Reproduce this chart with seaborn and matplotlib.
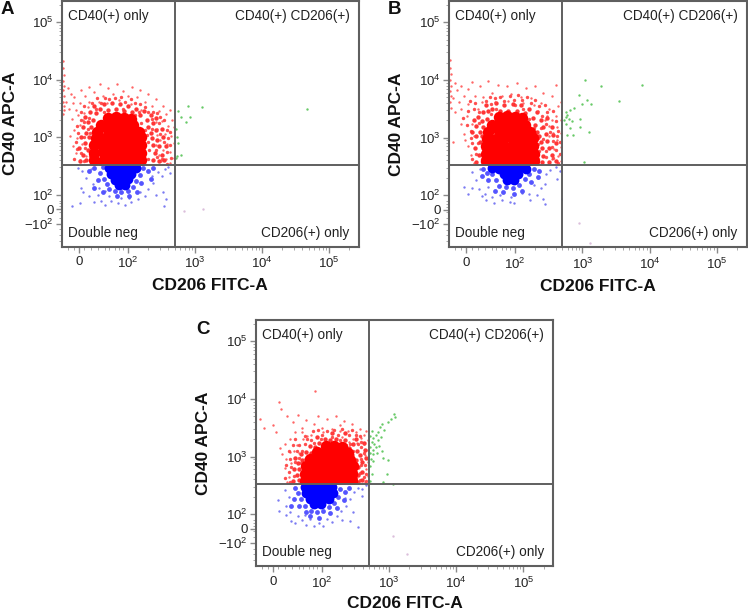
import numpy as np
import matplotlib
matplotlib.use("Agg")
import matplotlib.pyplot as plt
from matplotlib.patches import Rectangle
import seaborn as sns

# all positions in axis decades (10^2 = 2, 10^3 = 3 ...)
x_tick_pos = [1.27, 2, 3, 4, 5]
x_tick_labels = ['0', r'$\mathregular{10^{2}}$', r'$\mathregular{10^{3}}$', r'$\mathregular{10^{4}}$', r'$\mathregular{10^{5}}$']
y_tick_pos = [1.5, 1.75, 2, 3, 4, 5]
y_tick_labels = [r'$\mathregular{-10^{2}}$', '0', r'$\mathregular{10^{2}}$', r'$\mathregular{10^{3}}$', r'$\mathregular{10^{4}}$', r'$\mathregular{10^{5}}$']
x_gate = 2.70
y_gate = 2.52

# --- panel A ---
a_red_core = [(1.5,2.6),(1.62,2.58),(1.74,2.6),(1.86,2.58),(1.98,2.6),(2.1,2.58),(2.2,2.6),(1.5,2.72),(1.62,2.74),(1.74,2.72),(1.86,2.74),(1.98,2.72),(2.1,2.74),(2.2,2.72),
              (1.5,2.86),(1.62,2.84),(1.74,2.86),(1.86,2.84),(1.98,2.86),(2.1,2.84),(2.2,2.86),(1.52,2.98),(1.66,2.98),(1.78,3.0),(1.9,2.98),(2.02,3.0),(2.14,2.98),(2.2,3.0),
              (1.54,3.1),(1.7,3.12),(1.82,3.1),(1.94,3.12),(2.06,3.1),(2.16,3.1),(1.6,3.22),(1.72,3.24),(1.84,3.22),(1.96,3.24),(2.08,3.22),(1.7,3.34),(1.82,3.36),(1.94,3.34),(2.04,3.32)]
a_red_halo = [(1.28,2.58),(1.33,2.7),(1.27,2.82),(1.36,2.9),(1.3,3.0),(1.38,3.08),(1.33,3.18),(1.4,3.26),(1.36,3.36),(1.44,3.44),(1.38,2.6),(1.4,2.78),(1.42,3.0),(1.45,3.18),(1.48,3.3),(1.52,3.42),(1.5,3.55),
              (1.58,3.5),(1.64,3.58),(1.7,3.48),(1.76,3.6),(1.82,3.5),(1.88,3.57),(1.94,3.46),(2.0,3.54),(2.06,3.44),(2.12,3.5),(2.18,3.38),(2.24,3.46),
              (2.28,3.3),(2.34,3.38),(2.3,3.18),(2.38,3.24),(2.34,3.08),(2.42,3.12),(2.36,2.98),(2.44,2.96),(2.38,2.86),(2.46,2.84),(2.4,2.72),(2.5,2.7),(2.38,2.6),(2.46,2.58),(2.54,2.6),(2.56,2.84),(2.52,3.0),(2.5,3.14),(2.42,3.34)]
a_red_fine = [(1.2,2.62),(1.24,2.8),(1.22,2.92),(1.26,3.08),(1.24,3.2),(1.3,3.3),(1.3,3.44),(1.34,3.54),(1.42,3.34),(1.46,3.6),(1.54,3.68),(1.6,3.6),(1.66,3.68),(1.72,3.66),(1.8,3.68),(1.9,3.7),(1.96,3.62),(2.04,3.66),(2.1,3.6),(2.18,3.58),(2.26,3.52),(2.3,3.44),(2.38,3.44),(2.44,3.42),(2.48,3.36),(2.54,3.3),(2.58,3.12),(2.62,3.1),(2.6,2.98),(2.54,2.92),(2.62,2.86),(2.58,2.74),(2.5,2.62),(2.64,2.64),(2.58,2.54),
              (1.34,2.58),(1.3,2.72),(1.36,2.82),(1.34,3.0),(1.4,3.14),(1.34,3.26),(1.44,2.68),(1.46,2.88),(1.44,3.08),(2.3,2.62),(2.32,2.78),(2.3,2.92),(2.28,3.04),(2.44,2.66),(2.42,2.78),(2.48,3.06),(2.46,3.24),(2.36,3.14),(2.36,3.32),(2.2,3.24),(2.26,3.12),(1.52,3.5),(1.64,3.44),(1.92,3.5),(2.1,3.38),(2.16,3.44)]
a_red_dots = [(1.03,4.32),(1.03,4.2),(1.04,4.08),(1.03,3.98),(1.05,3.9),(1.03,3.82),(1.04,3.72),(1.03,3.62),(1.05,3.55),(1.04,3.48),(1.03,3.4),
              (1.1,3.85),(1.15,3.75),(1.08,3.62),(1.18,3.6),(1.12,3.5),(1.22,3.48),(1.2,3.7),(1.28,3.6),(1.3,3.82),(1.36,3.72),(1.26,3.38),(1.17,3.32),(1.34,3.42),(1.42,3.62),
              (1.42,3.88),(1.5,3.78),(1.58,3.92),(1.62,3.72),(1.7,3.85),(1.78,3.75),(1.84,3.93),(1.92,3.8),(2.0,3.72),(2.06,3.88),(2.14,3.7),(2.18,3.82),(2.26,3.62),(2.3,3.76),(2.36,3.55),(2.42,3.66),(2.46,3.45),(2.52,3.55),
              (2.56,3.4),(2.62,3.48),(2.66,3.3),(2.68,3.18),(2.6,3.2),(2.5,3.28),(2.44,3.15),(2.55,3.05),(2.64,3.02),(2.68,2.9),(2.58,2.88),(2.48,2.95),(2.52,2.78),(2.62,2.75),(2.68,2.64),(2.56,2.62),(2.46,2.7),(2.42,2.86),(2.62,2.56),
              (1.2,3.12),(1.24,2.98),(1.18,2.85),(1.28,3.22),(1.33,3.3),(1.22,2.72),(1.28,2.6),(1.4,3.52),(1.56,3.62),(1.68,3.6),(1.86,3.65),(2.05,3.58),(2.2,3.48),(2.34,3.38),(2.42,3.26),(2.44,3.04),(1.38,2.68),(1.14,3.02),(1.31,2.88),(2.49,2.58)]
a_blue_core = [(1.72,2.46),(1.82,2.47),(1.92,2.46),(2.02,2.47),(2.12,2.46),(1.74,2.36),(1.84,2.36),(1.94,2.37),(2.04,2.36),(1.8,2.26),(1.9,2.26),(2.0,2.27),(1.86,2.17),(1.95,2.17)]
a_blue_halo = [(1.5,2.46),(1.58,2.38),(1.62,2.48),(1.55,2.25),(1.64,2.28),(1.68,2.18),(1.72,2.1),(1.8,2.06),(1.9,2.05),(2.0,2.07),(2.08,2.14),(2.12,2.24),(2.18,2.34),(2.22,2.46),(2.3,2.42),(2.2,2.2),(2.34,2.28),(2.38,2.46),(1.42,2.42),(1.5,2.12),(1.62,2.04),(1.84,1.97),(2.02,1.98),(2.14,2.04)]
a_blue_dots = [(1.32,2.42),(1.38,2.3),(1.45,2.45),(1.48,2.18),(1.3,2.12),(1.33,2.04),(1.42,1.98),(1.28,1.85),(1.17,1.8),(1.55,2.0),(1.6,1.9),(1.5,1.88),(1.65,1.82),(1.75,1.9),(1.85,1.85),(1.95,1.83),(2.05,1.88),(2.15,1.92),(2.25,1.98),(2.3,2.1),(2.38,2.2),(2.45,2.4),(2.5,2.32),(2.55,2.45),(2.6,2.48),(2.52,2.05),(2.56,1.92),(2.42,2.0),(2.54,1.81),(2.62,2.38),(1.66,2.06),(1.56,2.12),(2.18,2.05),(2.36,2.32),(1.26,2.46),(1.72,1.98),(1.9,1.95),(2.02,1.95)]
a_green = [(2.75,3.45),(2.90,3.54),(3.11,3.53),(4.67,3.49),(2.87,3.27),(2.79,3.35),(2.92,3.36),(2.71,3.15),(2.73,3.01),(2.75,2.90),(2.73,2.67),(2.79,2.70),(2.71,2.64)]
a_pale = [(2.83,1.72),(3.12,1.76)]

# --- panel B ---
b_red_core = [(1.56,2.6),(1.68,2.58),(1.8,2.6),(1.92,2.58),(2.04,2.6),(2.16,2.58),(2.28,2.6),(1.56,2.72),(1.68,2.74),(1.8,2.72),(1.92,2.74),(2.04,2.72),(2.16,2.74),(2.28,2.72),
              (1.56,2.86),(1.68,2.84),(1.8,2.86),(1.92,2.84),(2.04,2.86),(2.16,2.84),(2.26,2.86),(1.58,2.98),(1.72,2.98),(1.84,3.0),(1.96,2.98),(2.08,3.0),(2.2,2.98),(2.27,3.0),
              (1.6,3.1),(1.76,3.12),(1.88,3.1),(2.0,3.12),(2.12,3.1),(2.22,3.1),(1.66,3.22),(1.78,3.24),(1.9,3.22),(2.02,3.22),(2.14,3.22),(1.76,3.36),(1.88,3.37),(2.0,3.36),(2.1,3.34)]
b_red_halo = [(1.42,2.58),(1.46,2.7),(1.4,2.82),(1.47,2.92),(1.42,3.02),(1.48,3.1),(1.42,3.2),(1.5,3.28),(1.44,3.36),(1.52,3.44),(1.36,3.1),(1.38,3.3),(1.5,3.02),(1.52,3.18),(1.58,3.32),(1.6,3.46),(1.56,3.56),
              (1.66,3.5),(1.72,3.6),(1.78,3.46),(1.84,3.56),(1.9,3.46),(1.96,3.58),(2.02,3.46),(2.08,3.56),(2.14,3.42),(2.2,3.5),(2.26,3.34),(2.32,3.44),
              (2.3,3.22),(2.38,3.3),(2.32,3.1),(2.42,3.18),(2.36,3.02),(2.46,3.06),(2.38,2.92),(2.48,2.94),(2.4,2.82),(2.5,2.82),(2.42,2.68),(2.54,2.7),(2.4,2.58),(2.5,2.58),(2.6,2.6),(2.6,2.9),(2.56,3.04),(2.54,3.18),(2.48,3.34)]
b_red_fine = [(1.22,3.34),(1.28,3.22),(1.3,3.46),(1.34,3.12),(1.38,3.5),(1.32,3.64),(1.4,3.6),(1.46,3.44),(1.46,3.26),(1.36,2.9),(1.34,3.0),(1.42,2.72),(1.36,2.62),(1.44,2.9),(1.5,2.62),(1.52,2.8),
              (1.56,3.64),(1.62,3.7),(1.64,3.58),(1.7,3.68),(1.78,3.7),(1.84,3.64),(1.92,3.72),(1.98,3.66),(2.04,3.74),(2.1,3.66),(2.18,3.7),(2.24,3.6),(2.3,3.66),(2.36,3.54),(2.44,3.56),(2.48,3.44),(2.56,3.46),(2.6,3.28),(2.64,3.12),(2.62,3.02),(2.56,2.94),(2.66,2.92),(2.6,2.78),(2.66,2.72),(2.56,2.64),(2.64,2.56),
              (2.34,2.62),(2.36,2.76),(2.34,2.88),(2.34,3.0),(2.46,2.66),(2.46,2.76),(2.54,2.84),(2.42,2.98),(2.52,3.1),(2.46,3.24),(2.38,3.16),(2.4,3.38),(2.28,3.16),(2.2,3.32),(2.12,3.5),(1.72,3.5),(2.0,3.56),(1.64,3.4)]
b_red_dots = [(1.03,4.35),(1.03,4.2),(1.04,4.1),(1.03,4.0),(1.04,3.9),(1.03,3.8),(1.05,3.72),(1.03,3.62),(1.04,3.52),
              (1.1,3.95),(1.14,3.82),(1.2,3.9),(1.08,3.68),(1.16,3.62),(1.24,3.72),(1.1,3.45),(1.2,3.5),(1.3,3.58),(1.3,3.85),(1.36,3.96),(1.4,3.72),(1.48,3.9),(1.52,3.7),(1.28,3.38),(1.36,3.24),(1.2,3.24),(1.24,3.06),
              (1.6,3.98),(1.66,3.78),(1.74,3.92),(1.8,3.72),(1.88,3.9),(1.94,3.76),(2.02,3.95),(2.08,3.7),(2.16,3.86),(2.24,3.68),(2.3,3.9),(2.38,3.6),(2.42,3.78),(2.5,3.5),(2.54,3.72),(2.6,3.92),(2.64,3.55),(2.68,3.62),
              (2.6,3.38),(2.68,3.3),(2.55,3.3),(2.48,3.38),(2.62,3.18),(2.68,3.08),(2.56,3.08),(2.5,3.2),(2.62,2.96),(2.68,2.84),(2.58,2.8),(2.63,2.68),(2.68,2.6),(2.55,2.62),(2.5,3.02),
              (1.3,2.86),(1.34,2.7),(1.26,2.95),(1.38,3.02),(1.38,2.56),(1.45,3.5),(1.7,3.62),(1.9,3.64),(2.12,3.6),(2.34,3.46),(2.44,3.3),(1.08,2.92),(1.5,3.62),(2.28,3.56)]
b_blue_core = [(1.66,2.47),(1.76,2.46),(1.86,2.47),(1.96,2.46),(2.06,2.47),(2.16,2.46),(1.84,2.36),(1.94,2.36),(2.04,2.37),(1.88,2.26),(1.98,2.26)]
b_blue_halo = [(1.52,2.46),(1.58,2.38),(1.66,2.36),(1.6,2.26),(1.72,2.26),(1.76,2.16),(1.86,2.14),(1.96,2.12),(2.06,2.18),(2.14,2.28),(2.2,2.36),(2.28,2.46),(2.36,2.42),(2.24,2.22),(2.1,2.08),(1.82,2.06),(1.98,2.02),(2.34,2.32),(1.7,2.08),(1.5,2.34)]
b_blue_dots = [(1.36,2.4),(1.42,2.26),(1.48,2.46),(1.24,2.14),(1.36,2.12),(1.3,2.02),(1.46,2.1),(1.55,2.02),(1.6,2.14),(1.56,1.92),(1.66,1.96),(1.68,1.86),(1.78,2.0),(1.8,1.92),(1.92,1.88),(1.98,1.86),(1.94,1.96),(2.1,2.04),(2.2,2.02),(2.22,1.92),(2.32,2.0),(2.38,2.12),(2.44,2.2),(2.46,2.36),(2.52,2.44),(2.6,2.48),(2.66,2.42),(2.62,2.28),(2.42,1.94),(2.44,1.84),(2.7,1.94),(1.5,1.98),(2.28,2.18),(2.34,2.3)]
b_green = [(3.04,4.0),(3.27,3.9),(3.89,3.91),(3.55,3.63),(2.95,3.74),(3.07,3.66),(3.12,3.58),(3.0,3.59),(2.87,3.51),(2.82,3.48),(2.75,3.45),(2.77,3.39),(2.73,3.3),(2.8,3.33),(2.85,3.28),(2.97,3.32),(2.75,3.23),(2.82,3.16),(2.97,3.19),(3.09,3.1),(2.86,3.04),(2.77,3.04),(3.02,2.58),(2.75,3.36)]
b_pale = [(2.95,1.51),(3.11,1.17)]

# --- panel C ---
c_red_core = [(1.74,2.58),(1.86,2.6),(1.98,2.58),(2.1,2.6),(2.22,2.58),(2.34,2.6),(2.44,2.58),(1.74,2.7),(1.86,2.72),(1.98,2.7),(2.1,2.72),(2.22,2.7),(2.34,2.72),(2.44,2.7),
              (1.76,2.84),(1.9,2.82),(2.02,2.84),(2.14,2.82),(2.26,2.84),(2.38,2.82),(2.46,2.84),(1.82,2.96),(1.94,2.94),(2.06,2.96),(2.18,2.94),(2.3,2.96),(2.42,2.94),(1.92,3.08),(2.04,3.08),(2.16,3.06),(2.28,3.08),(2.38,3.06),(2.06,3.18),(2.18,3.18),(2.3,3.17)]
c_red_halo = [(1.56,2.58),(1.62,2.68),(1.58,2.78),(1.64,2.88),(1.6,2.98),(1.68,3.04),(1.66,2.6),(1.66,2.78),(1.7,2.94),(1.76,2.96),(1.76,3.08),(1.84,3.06),(1.82,3.18),(1.9,3.16),(1.96,3.24),(2.04,3.18),(2.04,3.3),(2.12,3.28),(2.2,3.3),(2.28,3.2),(2.34,3.28),(2.4,3.14),(2.44,3.02),(2.46,3.22),(2.52,3.1),(2.5,2.94),(2.56,3.02),(2.54,2.82),(2.6,2.9),(2.54,2.68),(2.6,2.74),(2.54,2.56),(2.6,2.6),(2.64,3.12),(2.62,3.24),(2.66,2.98),(1.92,3.34),(2.14,3.4),(2.34,3.4),(2.5,3.3)]
c_red_fine = [(1.44,2.62),(1.5,2.74),(1.46,2.86),(1.52,2.96),(1.5,3.1),(1.56,3.2),(1.6,3.3),(1.66,3.2),(1.7,3.1),(1.62,3.1),(1.74,3.22),(1.78,3.3),(1.84,3.28),(1.86,3.44),(1.94,3.46),(2.0,3.38),(2.08,3.44),(2.18,3.46),(2.24,3.38),(2.3,3.48),(2.4,3.38),(2.44,3.46),(2.5,3.38),(2.56,3.36),(2.58,3.16),(2.62,3.06),(2.58,2.96),(2.64,2.86),(2.66,2.7),(2.62,2.64),(2.66,2.58),(2.5,2.62),(2.5,2.74),(2.5,2.86),(2.56,2.72),
              (1.52,2.56),(1.58,2.66),(1.54,2.82),(1.6,2.9),(1.66,2.98),(1.7,2.7),(1.68,2.88),(2.56,2.6),(2.58,2.86),(2.46,3.1),(2.42,3.22),(2.54,3.22),(2.36,3.2),(2.26,3.28),(2.14,3.34),(1.98,3.3),(1.88,3.24),(2.58,3.26),(1.74,3.36)]
c_red_dots = [(1.89,4.13),(1.36,3.94),(1.39,3.83),(1.07,3.65),(1.27,3.54),(1.44,3.22),(1.32,3.42),(1.14,3.5),(1.48,3.7),(1.56,3.6),(1.6,3.42),(1.52,3.3),(1.64,3.72),(1.7,3.5),(1.76,3.64),(1.84,3.38),(1.88,3.56),(1.94,3.7),(2.0,3.5),(2.08,3.66),(2.14,3.48),(2.2,3.7),(2.26,3.54),(2.32,3.62),(2.38,3.44),(2.44,3.56),(2.5,3.42),(2.56,3.48),(2.62,3.38),(2.66,3.45),
              (2.68,3.28),(2.62,3.22),(2.68,3.12),(2.64,3.02),(2.68,2.9),(2.66,2.78),(2.68,2.66),(2.64,2.56),(2.58,3.32),(2.46,3.3),(2.3,3.34),(2.14,3.4),(1.78,3.36),(1.62,3.2),(1.52,3.08),(1.46,2.96),(1.44,2.8),(1.5,2.64),(1.4,3.05),(1.48,2.56),(1.58,3.1),(1.72,3.3),(1.66,3.06),(1.54,2.88),(1.38,3.14),(1.7,3.42),(2.4,3.26),(2.02,3.42),(2.26,3.44),(2.52,3.24)]
c_blue_core = [(1.74,2.47),(1.84,2.46),(1.94,2.47),(2.04,2.46),(2.14,2.47),(1.76,2.37),(1.86,2.36),(1.96,2.37),(2.06,2.36),(2.16,2.37),(1.82,2.27),(1.92,2.26),(2.02,2.27),(2.1,2.27),(1.88,2.17),(1.98,2.17)]
c_blue_halo = [(1.6,2.46),(1.64,2.36),(1.58,2.26),(1.68,2.26),(1.66,2.14),(1.74,2.14),(1.76,2.04),(1.84,2.06),(1.92,2.04),(2.02,2.06),(2.1,2.12),(2.18,2.2),(2.24,2.3),(2.26,2.44),(2.34,2.38),(2.12,2.02),(1.82,1.96),(1.96,1.94),(2.22,2.1),(2.32,2.24),(1.54,2.14),(2.4,2.46)]
c_blue_dots = [(1.34,2.24),(1.44,2.42),(1.5,2.3),(1.46,2.14),(1.52,2.04),(1.46,1.98),(1.54,1.88),(1.64,1.96),(1.6,1.85),(1.7,1.9),(1.76,1.82),(1.82,1.92),(1.88,1.8),(1.96,1.84),(2.02,1.8),(2.08,1.92),(2.14,1.86),(2.22,1.96),(2.28,2.06),(2.36,2.14),(2.42,2.26),(2.48,2.38),(2.54,2.46),(2.6,2.44),(2.66,2.5),(2.46,2.04),(2.54,1.77),(2.42,1.88),(2.3,1.9),(2.6,2.32),(1.36,2.06),(1.74,1.98),(2.2,2.1),(2.34,2.28)]
c_green = [(2.72,3.36),(2.76,3.32),(2.8,3.38),(2.74,3.26),(2.78,3.22),(2.83,3.28),(2.88,3.34),(2.72,3.16),(2.76,3.12),(2.8,3.16),(2.85,3.18),(2.72,3.06),(2.76,3.04),(2.82,3.06),(2.89,3.1),(2.74,3.44),(2.84,3.42),(3.09,3.68),(3.03,3.65),(3.07,3.74),(2.89,3.57),(2.86,3.51),(2.92,3.46),(2.98,3.6),(2.91,2.55),(3.06,2.53),(2.96,2.7),(2.74,2.7),(2.71,2.58),(2.72,2.84),(2.76,2.92),(2.73,2.96),(2.9,2.98),(2.98,2.94)]
c_pale = [(3.06,1.62),(3.26,1.30)]

panels = [
    ('A', [62, 1, 358.5, 246.5], [a_red_core, a_red_halo, a_red_fine, a_red_dots, a_blue_core, a_blue_halo, a_blue_dots, a_green, a_pale], (1, 10), -0.13),
    ('B', [449, 1, 746.5, 247], [b_red_core, b_red_halo, b_red_fine, b_red_dots, b_blue_core, b_blue_halo, b_blue_dots, b_green, b_pale], (388, 10), -0.13),
    ('C', [256, 320, 553, 566], [c_red_core, c_red_halo, c_red_fine, c_red_dots, c_blue_core, c_blue_halo, c_blue_dots, c_green, c_pale], (196, 329), -0.12),
]

W, H = 748, 610
sns.set_style("white")
plt.rcParams['font.family'] = ['Liberation Sans', 'DejaVu Sans']
fig = plt.figure(figsize=(W / 100, H / 100), dpi=100)
GRAY = '#5f5f5f'


def draw_points(ax, pts, color, size, alpha=1.0, clip=None):
    xs = [p[0] for p in pts]
    ys = [p[1] for p in pts]
    sns.scatterplot(x=xs, y=ys, color=color, s=size, alpha=alpha, linewidth=0, ax=ax)
    if clip is not None:
        r = Rectangle((clip[0], clip[1]), clip[2] - clip[0], clip[3] - clip[1], transform=ax.transData)
        ax.collections[-1].set_clip_path(r)


for letter, box, data, letter_pos, xlabel_y in panels:
    left, top, right, bottom = box
    ax = fig.add_axes([left / W, 1 - bottom / H, (right - left) / W, (bottom - top) / H])
    ax.set_xlim(1.015, 5.44)
    ax.set_ylim(1.10, 5.37)

    red_clip = (1.015, y_gate, x_gate, 5.37)
    blue_clip = (1.015, 1.10, x_gate, y_gate)
    draw_points(ax, data[1], '#ff2020', 10, 0.9, red_clip)
    draw_points(ax, data[2], '#ff3030', 6, 0.85, red_clip)
    draw_points(ax, data[0], '#ff0000', 68, 1.0, red_clip)
    draw_points(ax, data[3], '#ff4040', 3, 0.8, red_clip)
    draw_points(ax, data[5], '#2a2aff', 12, 0.8, blue_clip)
    draw_points(ax, data[4], '#0000ff', 50, 1.0, blue_clip)
    draw_points(ax, data[6], '#5a5af0', 3, 0.8, blue_clip)
    draw_points(ax, data[7], '#58c458', 3, 0.9)
    draw_points(ax, data[8], '#d8b8d8', 3, 0.9)

    ax.axvline(x_gate, color=GRAY, lw=1.4)
    ax.axhline(y_gate, color=GRAY, lw=1.4)

    for s in ax.spines.values():
        s.set_visible(True)
        s.set_color(GRAY)
        s.set_linewidth(1.5)

    ax.set_xticks(x_tick_pos)
    ax.set_xticklabels(x_tick_labels)
    ax.set_yticks(y_tick_pos)
    ax.set_yticklabels(y_tick_labels)
    minor = [d + np.log10(k) for d in [2, 3, 4, 5] for k in range(2, 10)]
    ax.set_xticks([m for m in minor if m < 5.44] + [1.1, 1.2, 1.35, 1.45, 1.55, 1.65, 1.72, 1.8, 1.87, 1.92], minor=True)
    ax.set_yticks([m for m in minor if m < 5.37] + [1.2, 1.3, 1.4, 1.6, 1.7, 1.8, 1.85, 1.9], minor=True)
    ax.tick_params(axis='both', which='major', direction='out', length=4, width=1, color='#8a8a8a', labelsize=9.5, labelcolor='#222222', pad=2)
    ax.tick_params(axis='x', which='major', pad=3)
    ax.tick_params(axis='both', which='minor', direction='out', length=2.5, width=0.7, color='#a8a8a8')
    ax.tick_params(axis='both', which='both', bottom=True, left=True)

    ax.set_xlabel('CD206 FITC-A', fontsize=12.5, fontweight='bold', color='#111111')
    ax.set_ylabel('CD40 APC-A', fontsize=12.5, fontweight='bold', color='#111111')
    ax.xaxis.set_label_coords(0.5, xlabel_y)
    ax.yaxis.set_label_coords(-0.15, 0.5)

    ax.text(0.02, 0.94, 'CD40(+) only', transform=ax.transAxes, fontsize=9.8, color='#222222', va='center')
    ax.text(0.97, 0.94, 'CD40(+) CD206(+)', transform=ax.transAxes, fontsize=9.8, color='#222222', va='center', ha='right')
    ax.text(0.02, 0.055, 'Double neg', transform=ax.transAxes, fontsize=9.8, color='#222222', va='center')
    ax.text(0.97, 0.055, 'CD206(+) only', transform=ax.transAxes, fontsize=9.8, color='#222222', va='center', ha='right')

    fig.text(letter_pos[0] / W, 1 - letter_pos[1] / H, letter, fontsize=13.5, fontweight='bold', color='#111111', va='center')

fig.savefig('out.png', dpi=100)
